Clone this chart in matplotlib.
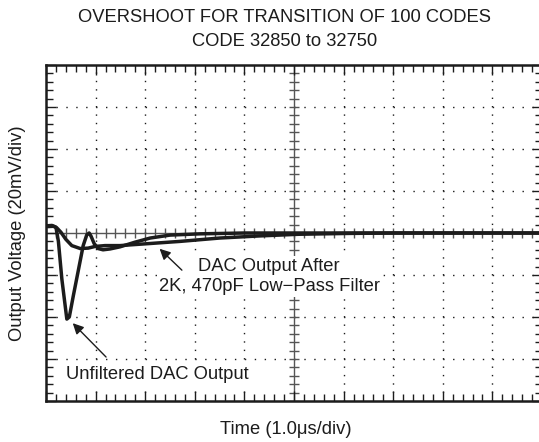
import numpy as np
import matplotlib.pyplot as plt

# time in divisions (1.0us/div), voltage in divisions (20mV/div), 0 = final value
t_unf = [0.0, 0.12, 0.2, 0.25, 0.32, 0.42, 0.47, 0.55, 0.65, 0.75, 0.82, 0.87, 0.91,
         0.97, 1.05, 1.15, 1.29, 1.49, 1.79, 2.1, 2.5, 3.1, 4.0, 10.0]
v_unf = [0.17, 0.18, 0.14, -0.2, -1.1, -2.05, -2.0, -1.5, -0.9, -0.3, -0.05, 0.0,
         -0.08, -0.25, -0.37, -0.4, -0.38, -0.33, -0.22, -0.12, -0.05, -0.02, 0.0, 0.0]

t_filt = [0.0, 0.15, 0.22, 0.3, 0.4, 0.52, 0.69, 0.85, 0.99, 1.19, 1.49, 2.1, 2.7,
          3.5, 4.3, 5.1, 6.1, 7.0, 10.0]
v_filt = [0.15, 0.16, 0.12, 0.02, -0.15, -0.3, -0.37, -0.36, -0.32, -0.3, -0.3, -0.25,
          -0.2, -0.12, -0.07, -0.03, -0.01, 0.0, 0.0]

plt.rcParams['font.family'] = ['Liberation Sans', 'DejaVu Sans']
ink = '#1c1c1c'

fig = plt.figure(figsize=(5.39, 4.42), dpi=100)
ax = fig.add_axes([46 / 539, 41 / 442, 496 / 539, 336 / 442])
ax.set_xlim(0, 10)
ax.set_ylim(-4, 4)

# dotted graticule
for gx in range(1, 10):
    if gx != 5:
        ax.axvline(gx, color=ink, lw=1.0, ls=(0, (1, 5.05)), zorder=1)
for gy in range(-3, 4):
    if gy != 0:
        ax.axhline(gy, color=ink, lw=1.0, ls=(0, (1, 6.14)), zorder=1)

# centre axes with cross ticks
ax.axhline(0, color='#555555', lw=1.0, zorder=1)
ax.axvline(5, color='#555555', lw=1.0, zorder=1)
mx = np.arange(0, 10.01, 0.2)
my = np.arange(-4, 4.01, 0.2)
ax.plot(mx, np.zeros_like(mx), ls='none', marker='|', ms=7, mew=1.0, color='#555555', zorder=1)
ax.plot(np.full_like(my, 5), my, ls='none', marker='_', ms=7, mew=1.0, color='#555555', zorder=1)

ax.plot(t_unf, v_unf, color=ink, lw=2.5, zorder=3, solid_joinstyle='round')
ax.plot(t_filt, v_filt, color=ink, lw=2.5, zorder=3, solid_joinstyle='round')

ax.set_xticks(np.arange(0, 11, 1))
ax.set_yticks(np.arange(-4, 5, 1))
ax.set_xticks(mx, minor=True)
ax.set_yticks(my, minor=True)
ax.tick_params(which='both', direction='in', top=True, right=True,
               labelbottom=False, labelleft=False, color=ink, width=1.0)
ax.tick_params(which='major', length=7)
ax.tick_params(which='minor', length=5)
for s in ax.spines.values():
    s.set_linewidth(1.8)
    s.set_color(ink)

fs = 13.2
box = dict(facecolor='white', edgecolor='none', pad=1.5)
ax.annotate('', xy=(2.25, -0.33), xytext=(2.78, -0.93),
            arrowprops=dict(arrowstyle='-|>', color=ink, lw=1.0, mutation_scale=16),
            zorder=5)
ax.text(4.5, -1.04, 'DAC Output After\n2K, 470pF Low\u2212Pass Filter',
        ha='center', va='center', fontsize=fs, color=ink, linespacing=1.25,
        bbox=box, zorder=4)
ax.annotate('', xy=(0.5, -2.1), xytext=(1.25, -3.0),
            arrowprops=dict(arrowstyle='-|>', color=ink, lw=1.0, mutation_scale=16),
            zorder=5)
ax.text(0.4, -3.38, 'Unfiltered DAC Output', ha='left', va='center',
        fontsize=fs, color=ink, bbox=box, zorder=4)

fig.text(285 / 539, 1 - 18 / 442, 'OVERSHOOT FOR TRANSITION OF 100 CODES',
         ha='center', va='center', fontsize=fs, color=ink)
fig.text(285 / 539, 1 - 42 / 442, 'CODE 32850 to 32750',
         ha='center', va='center', fontsize=fs, color=ink)
fig.text(286 / 539, 1 - 430 / 442, 'Time (1.0\u03bcs/div)',
         ha='center', va='center', fontsize=fs, color=ink)
fig.text(18 / 539, 1 - 233 / 442, 'Output Voltage (20mV/div)',
         ha='center', va='center', rotation=90, fontsize=fs, color=ink)

fig.savefig('out.png', dpi=100)
